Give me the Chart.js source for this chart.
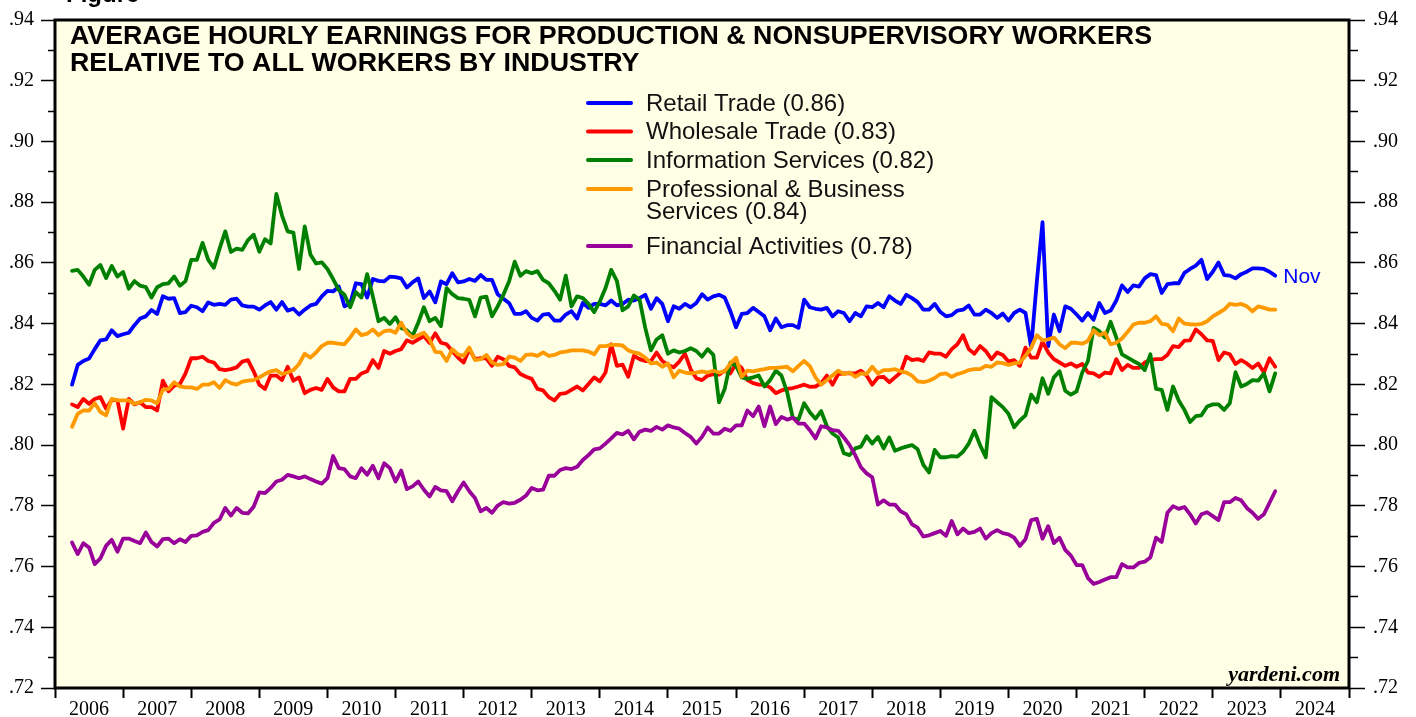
<!DOCTYPE html>
<html>
<head>
<meta charset="utf-8">
<script src="https://cdn.jsdelivr.net/npm/chart.js@4.4.1/dist/chart.umd.min.js"></script>
<style>
  html, body { margin: 0; padding: 0; background: #fff; }
  #chart { display: block; }
</style>
</head>
<body>
<canvas id="chart" width="1416" height="717"></canvas>
<script>
// monthly data, Mar 2006 .. Nov 2023 (ratio of production & nonsupervisory AHE to all workers)
const startYear = 2006;
const startMonth = 3;

const seriesNames = [
    "Retail Trade (0.86)",
    "Wholesale Trade (0.83)",
    "Information Services (0.82)",
    "Professional & Business|Services (0.84)",
    "Financial Activities (0.78)"
];
const seriesColors = ["#0000ff", "#ff0000", "#008000", "#ff9900", "#990099"];

const retail = [
    0.8199, 0.8264, 0.8277, 0.8285, 0.8316, 0.8345, 0.8348, 0.8378, 0.8359, 0.8365,
    0.8370, 0.8395, 0.8417, 0.8424, 0.8445, 0.8432, 0.8490, 0.8482, 0.8484, 0.8435, 0.8438, 0.8459,
    0.8454, 0.8441, 0.8470, 0.8462, 0.8465, 0.8462, 0.8479, 0.8482, 0.8460, 0.8456, 0.8456, 0.8446,
    0.8460, 0.8471, 0.8446, 0.8471, 0.8443, 0.8449, 0.8430, 0.8446, 0.8460, 0.8465, 0.8490, 0.8508,
    0.8506, 0.8522, 0.8457, 0.8465, 0.8533, 0.8530, 0.8486, 0.8547, 0.8541, 0.8539, 0.8555, 0.8553,
    0.8549, 0.8519, 0.8536, 0.8549, 0.8484, 0.8506, 0.8470, 0.8539, 0.8530, 0.8566, 0.8536, 0.8539,
    0.8547, 0.8541, 0.8560, 0.8544, 0.8544, 0.8497, 0.8482, 0.8468, 0.8432, 0.8432, 0.8441, 0.8419,
    0.8410, 0.8430, 0.8432, 0.8410, 0.8410, 0.8430, 0.8441, 0.8417, 0.8468, 0.8452, 0.8465, 0.8465,
    0.8460, 0.8476, 0.8460, 0.8465, 0.8479, 0.8476, 0.8484, 0.8495, 0.8449, 0.8484, 0.8465, 0.8408,
    0.8457, 0.8449, 0.8465, 0.8454, 0.8468, 0.8497, 0.8479, 0.8490, 0.8495, 0.8486, 0.8441, 0.8388,
    0.8432, 0.8435, 0.8452, 0.8438, 0.8424, 0.8378, 0.8417, 0.8388, 0.8395, 0.8395, 0.8386, 0.8479,
    0.8454, 0.8449, 0.8446, 0.8452, 0.8424, 0.8441, 0.8435, 0.8408, 0.8435, 0.8424, 0.8457, 0.8454,
    0.8468, 0.8454, 0.8490, 0.8476, 0.8465, 0.8495, 0.8484, 0.8471, 0.8446, 0.8446, 0.8465, 0.8438,
    0.8424, 0.8428, 0.8443, 0.8446, 0.8460, 0.8430, 0.8430, 0.8446, 0.8435, 0.8419, 0.8433, 0.8410,
    0.8435, 0.8446, 0.8435, 0.8321, 0.8539, 0.8734, 0.8326, 0.8430, 0.8375, 0.8457, 0.8449, 0.8430,
    0.8410, 0.8435, 0.8413, 0.8468, 0.8435, 0.8443, 0.8476, 0.8526, 0.8504, 0.8526, 0.8522, 0.8549,
    0.8563, 0.8560, 0.8501, 0.8530, 0.8533, 0.8533, 0.8567, 0.8580, 0.8591, 0.8610, 0.8547, 0.8571,
    0.8601, 0.8560, 0.8558, 0.8549, 0.8563, 0.8571, 0.8582, 0.8582, 0.8580, 0.8571, 0.8558
];

const wholesale = [
    0.8134, 0.8125, 0.8152, 0.8136, 0.8152, 0.8158, 0.8120, 0.8149, 0.8147, 0.8054,
    0.8152, 0.8134, 0.8141, 0.8125, 0.8125, 0.8114, 0.8212, 0.8177, 0.8196, 0.8201, 0.8236, 0.8286,
    0.8286, 0.8291, 0.8277, 0.8272, 0.8250, 0.8247, 0.8250, 0.8256, 0.8275, 0.8280, 0.8243, 0.8199,
    0.8185, 0.8229, 0.8229, 0.8214, 0.8258, 0.8212, 0.8223, 0.8171, 0.8182, 0.8188, 0.8182, 0.8218,
    0.8190, 0.8177, 0.8177, 0.8218, 0.8218, 0.8236, 0.8243, 0.8280, 0.8254, 0.8310, 0.8301, 0.8310,
    0.8316, 0.8345, 0.8337, 0.8348, 0.8359, 0.8336, 0.8368, 0.8337, 0.8332, 0.8310, 0.8288, 0.8272,
    0.8316, 0.8283, 0.8286, 0.8286, 0.8261, 0.8291, 0.8283, 0.8261, 0.8256, 0.8234, 0.8225, 0.8218,
    0.8185, 0.8180, 0.8158, 0.8147, 0.8169, 0.8171, 0.8182, 0.8193, 0.8180, 0.8201, 0.8223, 0.8210,
    0.8239, 0.8332, 0.8261, 0.8265, 0.8225, 0.8294, 0.8283, 0.8277, 0.8277, 0.8305, 0.8277, 0.8264,
    0.8256, 0.8275, 0.8301, 0.8250, 0.8220, 0.8214, 0.8229, 0.8234, 0.8232, 0.8245, 0.8236, 0.8269,
    0.8254, 0.8214, 0.8204, 0.8199, 0.8199, 0.8190, 0.8171, 0.8180, 0.8185, 0.8188, 0.8193, 0.8199,
    0.8192, 0.8193, 0.8204, 0.8229, 0.8199, 0.8234, 0.8236, 0.8236, 0.8236, 0.8245, 0.8229, 0.8199,
    0.8223, 0.8225, 0.8207, 0.8223, 0.8239, 0.8291, 0.8280, 0.8283, 0.8277, 0.8305, 0.8301, 0.8301,
    0.8291, 0.8316, 0.8332, 0.8362, 0.8316, 0.8301, 0.8326, 0.8310, 0.8283, 0.8305, 0.8297, 0.8275,
    0.8280, 0.8261, 0.8321, 0.8288, 0.8288, 0.8341, 0.8305, 0.8283, 0.8272, 0.8261, 0.8269, 0.8258,
    0.8267, 0.8239, 0.8236, 0.8225, 0.8239, 0.8236, 0.8283, 0.8247, 0.8264, 0.8254, 0.8254, 0.8272,
    0.8280, 0.8283, 0.8283, 0.8297, 0.8326, 0.8323, 0.8344, 0.8345, 0.8381, 0.8365, 0.8345, 0.8343,
    0.8280, 0.8305, 0.8299, 0.8267, 0.8280, 0.8269, 0.8254, 0.8269, 0.8239, 0.8286, 0.8258
];

const information = [
    0.8574, 0.8577, 0.8555, 0.8528, 0.8577, 0.8593, 0.8550, 0.8590, 0.8555, 0.8570,
    0.8515, 0.8540, 0.8525, 0.8520, 0.8486, 0.8520, 0.8530, 0.8533, 0.8555, 0.8525, 0.8540, 0.8610,
    0.8610, 0.8666, 0.8610, 0.8584, 0.8647, 0.8704, 0.8636, 0.8647, 0.8643, 0.8675, 0.8693, 0.8637,
    0.8678, 0.8664, 0.8827, 0.8756, 0.8704, 0.8700, 0.8580, 0.8720, 0.8628, 0.8598, 0.8602, 0.8580,
    0.8547, 0.8511, 0.8495, 0.8454, 0.8504, 0.8486, 0.8563, 0.8490, 0.8408, 0.8419, 0.8399, 0.8421,
    0.8386, 0.8378, 0.8359, 0.8403, 0.8454, 0.8408, 0.8419, 0.8392, 0.8517, 0.8497, 0.8484, 0.8482,
    0.8478, 0.8424, 0.8486, 0.8489, 0.8424, 0.8457, 0.8495, 0.8539, 0.8604, 0.8558, 0.8573, 0.8566,
    0.8573, 0.8544, 0.8533, 0.8508, 0.8479, 0.8558, 0.8457, 0.8490, 0.8484, 0.8465, 0.8438, 0.8473,
    0.8517, 0.8577, 0.8541, 0.8444, 0.8457, 0.8493, 0.8479, 0.8386, 0.8312, 0.8348, 0.8362, 0.8301,
    0.8312, 0.8305, 0.8310, 0.8319, 0.8310, 0.8291, 0.8316, 0.8297, 0.8141, 0.8185, 0.8272, 0.8261,
    0.8223, 0.8218, 0.8223, 0.8229, 0.8193, 0.8214, 0.8245, 0.8229, 0.8174, 0.8090, 0.8084, 0.8138,
    0.8108, 0.8087, 0.8112, 0.8062, 0.8038, 0.8025, 0.7973, 0.7967, 0.7989, 0.7995, 0.8029, 0.8005,
    0.8027, 0.7989, 0.8025, 0.7981, 0.7989, 0.7995, 0.8000, 0.7986, 0.7935, 0.7910, 0.7984, 0.7960,
    0.7960, 0.7964, 0.7962, 0.7978, 0.8005, 0.8047, 0.8000, 0.7960, 0.8158, 0.8141, 0.8125, 0.8103,
    0.8059, 0.8081, 0.8098, 0.8166, 0.8141, 0.8220, 0.8169, 0.8223, 0.8243, 0.8179, 0.8166, 0.8177,
    0.8239, 0.8277, 0.8386, 0.8375, 0.8354, 0.8406, 0.8354, 0.8299, 0.8288, 0.8277, 0.8267, 0.8247,
    0.8299, 0.8185, 0.8182, 0.8116, 0.8193, 0.8147, 0.8116, 0.8076, 0.8095, 0.8098, 0.8127, 0.8134,
    0.8134, 0.8116, 0.8138, 0.8240, 0.8193, 0.8201, 0.8214, 0.8212, 0.8236, 0.8177, 0.8236
];

const professional = [
    0.8060, 0.8103, 0.8114, 0.8114, 0.8138, 0.8109, 0.8098, 0.8152, 0.8147, 0.8147,
    0.8147, 0.8136, 0.8141, 0.8149, 0.8147, 0.8138, 0.8182, 0.8185, 0.8207, 0.8193, 0.8190, 0.8190,
    0.8185, 0.8199, 0.8199, 0.8207, 0.8188, 0.8214, 0.8204, 0.8199, 0.8209, 0.8212, 0.8214, 0.8223,
    0.8234, 0.8243, 0.8247, 0.8234, 0.8239, 0.8247, 0.8267, 0.8301, 0.8288, 0.8305, 0.8326, 0.8337,
    0.8337, 0.8334, 0.8332, 0.8354, 0.8381, 0.8362, 0.8367, 0.8381, 0.8362, 0.8375, 0.8378, 0.8370,
    0.8403, 0.8370, 0.8354, 0.8362, 0.8370, 0.8348, 0.8307, 0.8305, 0.8277, 0.8316, 0.8299, 0.8294,
    0.8321, 0.8280, 0.8283, 0.8297, 0.8272, 0.8264, 0.8267, 0.8291, 0.8288, 0.8277, 0.8297, 0.8299,
    0.8294, 0.8305, 0.8294, 0.8297, 0.8305, 0.8308, 0.8312, 0.8312, 0.8312, 0.8308, 0.8299, 0.8326,
    0.8326, 0.8330, 0.8330, 0.8328, 0.8312, 0.8305, 0.8301, 0.8288, 0.8269, 0.8272, 0.8258, 0.8269,
    0.8223, 0.8245, 0.8239, 0.8236, 0.8239, 0.8243, 0.8239, 0.8245, 0.8239, 0.8243, 0.8269, 0.8288,
    0.8225, 0.8245, 0.8243, 0.8247, 0.8250, 0.8254, 0.8254, 0.8256, 0.8258, 0.8243, 0.8261, 0.8277,
    0.8260, 0.8223, 0.8199, 0.8214, 0.8229, 0.8245, 0.8234, 0.8239, 0.8225, 0.8236, 0.8234, 0.8258,
    0.8236, 0.8247, 0.8247, 0.8250, 0.8243, 0.8239, 0.8229, 0.8210, 0.8207, 0.8212, 0.8221, 0.8234,
    0.8236, 0.8225, 0.8234, 0.8239, 0.8247, 0.8250, 0.8250, 0.8261, 0.8258, 0.8272, 0.8270, 0.8264,
    0.8269, 0.8272, 0.8294, 0.8321, 0.8362, 0.8345, 0.8348, 0.8354, 0.8332, 0.8319, 0.8337, 0.8337,
    0.8334, 0.8343, 0.8378, 0.8362, 0.8370, 0.8332, 0.8337, 0.8351, 0.8373, 0.8397, 0.8403, 0.8403,
    0.8408, 0.8424, 0.8399, 0.8397, 0.8375, 0.8417, 0.8400, 0.8398, 0.8397, 0.8399, 0.8408, 0.8424,
    0.8435, 0.8446, 0.8465, 0.8462, 0.8465, 0.8457, 0.8441, 0.8457, 0.8452, 0.8446, 0.8446
];

const financial = [
    0.7679, 0.7641, 0.7677, 0.7663, 0.7608, 0.7627, 0.7668, 0.7688, 0.7649, 0.7692,
    0.7692, 0.7684, 0.7677, 0.7712, 0.7681, 0.7666, 0.7690, 0.7692, 0.7677, 0.7690, 0.7681, 0.7701,
    0.7703, 0.7714, 0.7720, 0.7744, 0.7755, 0.7793, 0.7768, 0.7793, 0.7777, 0.7775, 0.7797, 0.7844,
    0.7842, 0.7859, 0.7880, 0.7886, 0.7902, 0.7897, 0.7891, 0.7897, 0.7888, 0.7880, 0.7873, 0.7891,
    0.7964, 0.7924, 0.7921, 0.7897, 0.7891, 0.7924, 0.7902, 0.7932, 0.7891, 0.7940, 0.7924, 0.7880,
    0.7916, 0.7855, 0.7864, 0.7880, 0.7853, 0.7831, 0.7862, 0.7851, 0.7848, 0.7815, 0.7848, 0.7877,
    0.7848, 0.7826, 0.7782, 0.7793, 0.7777, 0.7801, 0.7812, 0.7807, 0.7810, 0.7820, 0.7834, 0.7859,
    0.7851, 0.7853, 0.7899, 0.7899, 0.7918, 0.7924, 0.7921, 0.7929, 0.7951, 0.7967, 0.7986, 0.7989,
    0.8005, 0.8022, 0.8040, 0.8035, 0.8047, 0.8019, 0.8044, 0.8051, 0.8047, 0.8060, 0.8051, 0.8065,
    0.8058, 0.8054, 0.8040, 0.8027, 0.8005, 0.8027, 0.8058, 0.8038, 0.8038, 0.8054, 0.8047, 0.8065,
    0.8065, 0.8114, 0.8095, 0.8127, 0.8062, 0.8127, 0.8069, 0.8093, 0.8084, 0.8090, 0.8071, 0.8071,
    0.8049, 0.8022, 0.8062, 0.8058, 0.8049, 0.8047, 0.8025, 0.8000, 0.7967, 0.7927, 0.7907, 0.7894,
    0.7804, 0.7818, 0.7804, 0.7804, 0.7782, 0.7772, 0.7739, 0.7728, 0.7699, 0.7703, 0.7710, 0.7717,
    0.7701, 0.7750, 0.7706, 0.7725, 0.7710, 0.7714, 0.7725, 0.7692, 0.7710, 0.7720, 0.7710, 0.7706,
    0.7695, 0.7668, 0.7690, 0.7753, 0.7757, 0.7692, 0.7733, 0.7677, 0.7695, 0.7655, 0.7636, 0.7605,
    0.7605, 0.7562, 0.7543, 0.7549, 0.7557, 0.7565, 0.7565, 0.7608, 0.7597, 0.7597, 0.7612, 0.7616,
    0.7630, 0.7695, 0.7681, 0.7777, 0.7799, 0.7790, 0.7796, 0.7772, 0.7742, 0.7772, 0.7779, 0.7766,
    0.7753, 0.7812, 0.7812, 0.7826, 0.7818, 0.7793, 0.7777, 0.7757, 0.7772, 0.7810, 0.7848
];

// axis ticks
const yearTicks = [2006, 2007, 2008, 2009, 2010, 2011, 2012, 2013, 2014, 2015,
    2016, 2017, 2018, 2019, 2020, 2021, 2022, 2023, 2024];
const yMajorTicks = [0.72, 0.74, 0.76, 0.78, 0.80, 0.82, 0.84, 0.86, 0.88, 0.90, 0.92, 0.94];
const yMinorTicks = [0.73, 0.75, 0.77, 0.79, 0.81, 0.83, 0.85, 0.87, 0.89, 0.91, 0.93];

const titleLines = [
    "AVERAGE HOURLY EARNINGS FOR PRODUCTION & NONSUPERVISORY WORKERS",
    "RELATIVE TO ALL WORKERS BY INDUSTRY"
];

const allSeries = [retail, wholesale, information, professional, financial];
allSeries.forEach((s, i) => {
    if (s.length !== 213) throw new Error("series " + i + " has " + s.length + " values");
});

const serif = '"Liberation Serif", "Times New Roman", serif';
const sans = '"Liberation Sans", Arial, Helvetica, sans-serif';

// month index -> decimal year, a point sits at the end of its month
function monthX(i) {
    return startYear + (startMonth - 1 + i + 1) / 12;
}

function toPoints(values) {
    return values.map((v, i) => ({ x: monthX(i), y: v }));
}

function yAxis(position, major) {
    const left = position === "left";
    return {
        type: "linear",
        position: position,
        min: 0.72,
        max: 0.94,
        weight: major ? 1 : 0,
        afterBuildTicks: s => {
            s.ticks = (major ? yMajorTicks : yMinorTicks).map(v => ({ value: v }));
        },
        ticks: {
            display: major,
            callback: v => v.toFixed(2).slice(1),
            font: { family: serif, size: 20 },
            color: "#000",
            padding: left ? 7 : 8
        },
        grid: {
            drawOnChartArea: false,
            tickLength: major ? (left ? 14 : 16) : (left ? 7 : 9),
            tickWidth: 1.5,
            tickColor: "#000"
        },
        border: { display: false },
        afterFit: s => {
            s.width = major ? (left ? 55 : 67) : 0;
        }
    };
}

const decor = {
    id: "decor",
    beforeDraw(chart) {
        const { ctx, chartArea: a } = chart;
        ctx.save();
        ctx.fillStyle = "#ffffff";
        ctx.fillRect(0, 0, chart.width, chart.height);
        ctx.fillStyle = "#ffffe6";
        ctx.fillRect(a.left, a.top, a.right - a.left, a.bottom - a.top);
        ctx.restore();
    },
    afterDatasetsDraw(chart) {
        const { ctx, chartArea: a, scales } = chart;
        ctx.save();

        // figure caption, cut off at the top edge
        ctx.fillStyle = "#000";
        ctx.font = "bold 24px " + sans;
        ctx.textBaseline = "alphabetic";
        ctx.textAlign = "left";
        ctx.fillText("Figure", 66, 2);

        // title, stretched to the width of the original
        ctx.font = "bold 25px " + sans;
        const w1 = ctx.measureText(titleLines[0]).width;
        const sx = 1082 / w1;
        titleLines.forEach((line, i) => {
            ctx.save();
            ctx.translate(70, 44 + i * 27);
            ctx.scale(sx, 1);
            ctx.fillText(line, 0, 0);
            ctx.restore();
        });

        // legend
        const legendY = [103, 131.5, 160, 189, 246];
        ctx.font = "24px " + sans;
        ctx.textBaseline = "middle";
        seriesNames.forEach((name, i) => {
            const y = legendY[i];
            ctx.strokeStyle = seriesColors[i];
            ctx.lineWidth = 4;
            ctx.lineCap = "round";
            ctx.beginPath();
            ctx.moveTo(588, y);
            ctx.lineTo(631, y);
            ctx.stroke();
            ctx.fillStyle = "#111";
            name.split("|").forEach((part, j) => {
                ctx.fillText(part, 646, y + 1 + j * 22);
            });
        });

        // end label for the last retail value
        const xs = scales.x, ys = scales.yL;
        const lastI = retail.length - 1;
        ctx.fillStyle = "#0000ff";
        ctx.font = "21px " + sans;
        ctx.fillText("Nov", xs.getPixelForValue(monthX(lastI)) + 8, ys.getPixelForValue(retail[lastI]) + 2);

        // source
        ctx.fillStyle = "#000";
        ctx.font = "italic bold 22px " + serif;
        ctx.textAlign = "right";
        ctx.textBaseline = "alphabetic";
        ctx.fillText("yardeni.com", 1340, 681);

        // frame
        ctx.strokeStyle = "#000";
        ctx.lineWidth = 3;
        ctx.strokeRect(a.left, a.top, a.right - a.left, a.bottom - a.top);
        ctx.restore();
    }
};

const order = [4, 3, 2, 1, 0];
const datasets = order.map(i => ({
    label: seriesNames[i].replace("|", " "),
    data: toPoints(allSeries[i]),
    borderColor: seriesColors[i],
    backgroundColor: seriesColors[i],
    borderWidth: 3.8,
    pointRadius: 0,
    tension: 0,
    borderJoinStyle: "round",
    borderCapStyle: "round",
    xAxisID: "x",
    yAxisID: "yL"
}));

new Chart(document.getElementById("chart").getContext("2d"), {
    type: "line",
    data: { datasets: datasets },
    plugins: [decor],
    options: {
        responsive: false,
        animation: false,
        devicePixelRatio: 1,
        layout: { padding: { top: 16, left: 0, right: 0, bottom: 0 } },
        plugins: {
            legend: { display: false },
            tooltip: { enabled: false }
        },
        scales: {
            x: {
                type: "linear",
                position: "bottom",
                min: 2006,
                max: 2025,
                afterBuildTicks: s => {
                    const t = [];
                    yearTicks.forEach(y => { t.push({ value: y }); t.push({ value: y + 0.5 }); });
                    t.push({ value: 2025 });
                    s.ticks = t;
                },
                ticks: {
                    autoSkip: false,
                    maxRotation: 0,
                    padding: 0,
                    font: { family: serif, size: 20 },
                    color: "#000",
                    callback: v => Number.isInteger(v) ? "" : String(Math.floor(v))
                },
                grid: {
                    drawOnChartArea: false,
                    tickLength: 10,
                    tickWidth: 2,
                    tickColor: c => (c.tick && Number.isInteger(c.tick.value)) ? "#000" : "rgba(0,0,0,0)"
                },
                border: { display: false },
                afterFit: s => { s.height = 29; }
            },
            yL: yAxis("left", true),
            yLm: yAxis("left", false),
            yR: yAxis("right", true),
            yRm: yAxis("right", false)
        }
    }
});
</script>
</body>
</html>
